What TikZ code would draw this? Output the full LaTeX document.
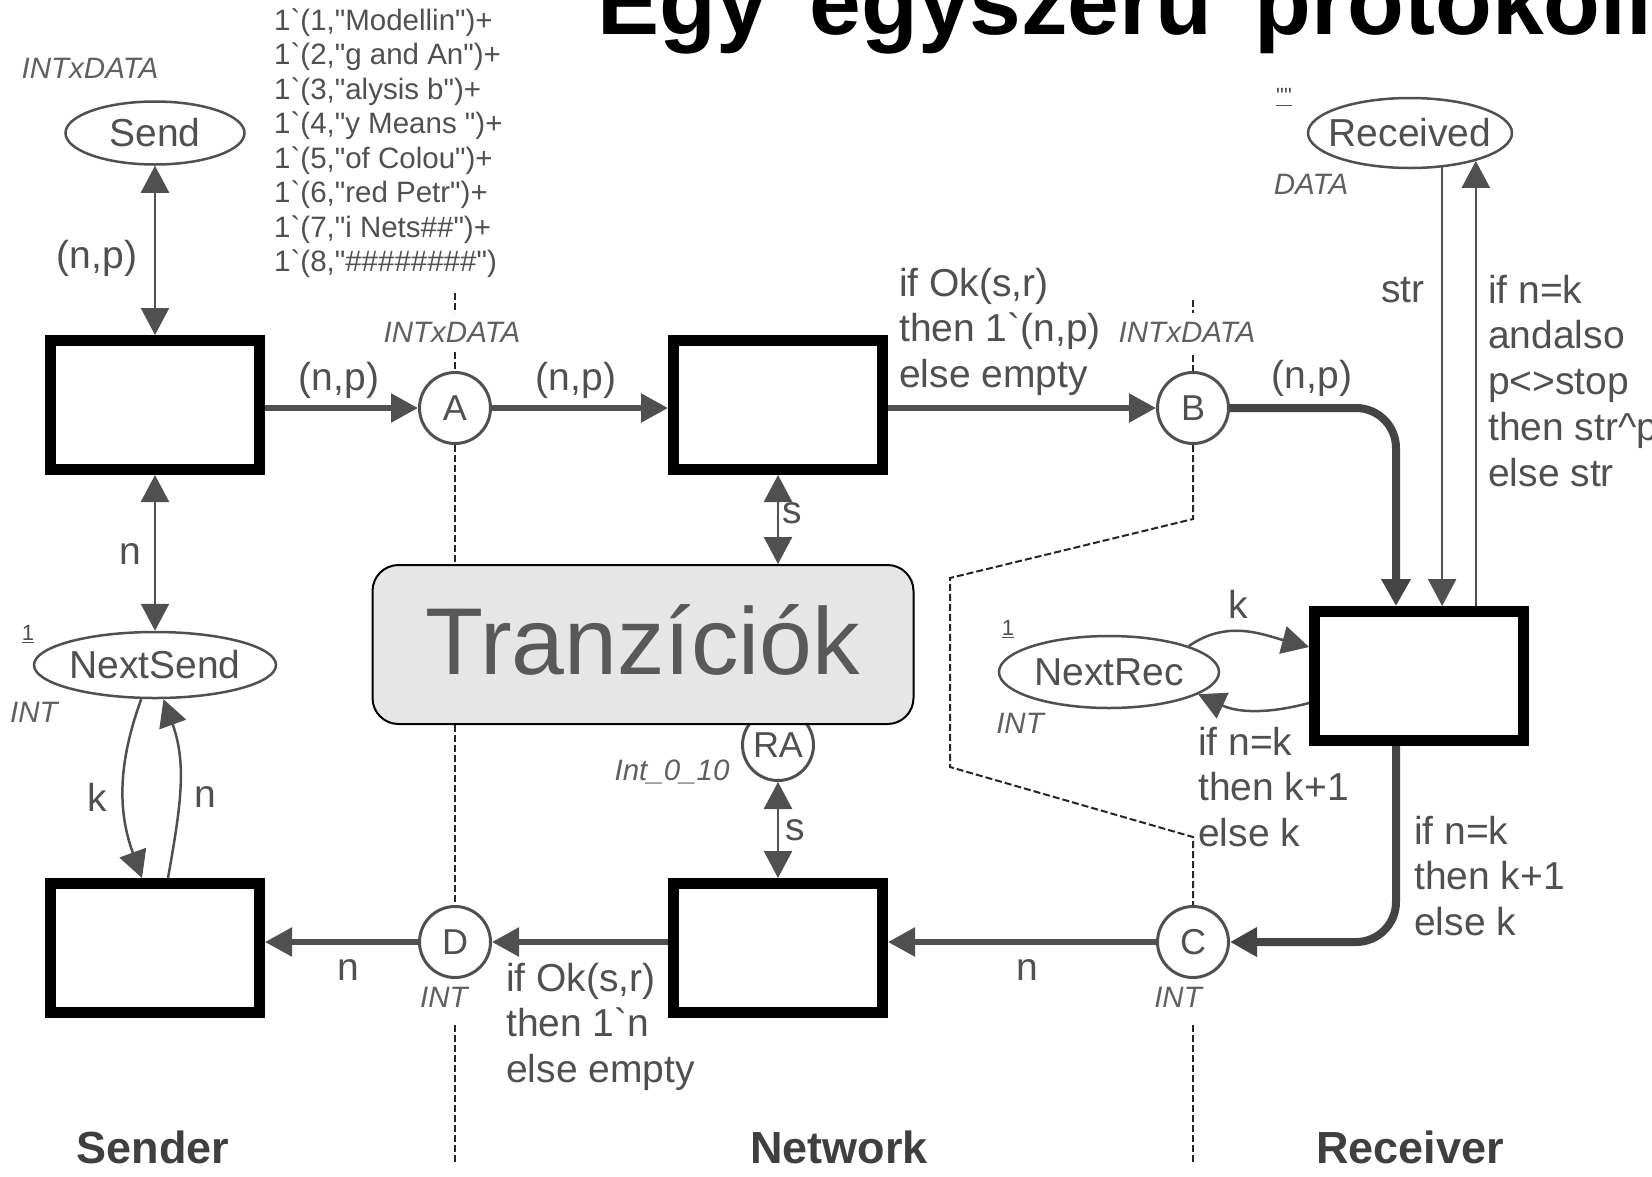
\documentclass[tikz,border=0pt]{standalone}
\usepackage{fontspec}
\newfontfamily\diafont{Liberation Sans}
\usetikzlibrary{arrows.meta,shapes.geometric,calc}
\definecolor{tgray}{HTML}{505050}
\definecolor{igray}{HTML}{606060}
\definecolor{agray}{HTML}{505050}
\definecolor{boxfill}{HTML}{E6E6E6}
\definecolor{trztext}{HTML}{595959}
\definecolor{botgray}{HTML}{3F3F3F}
\tikzset{
  lab/.style={font=\diafont\fontsize{39}{45}\selectfont, text=tgray, inner sep=0pt},
  mlab/.style={font=\diafont\fontsize{39}{45.8}\selectfont, text=tgray, inner sep=0pt, anchor=base west},
  typ/.style={font=\diafont\itshape\fontsize{29.5}{34}\selectfont, text=igray, inner sep=0pt},
  marking/.style={font=\diafont\fontsize{29.5}{34.5}\selectfont, text=tgray, inner sep=0pt, anchor=base west},
  tiny/.style={font=\diafont\fontsize{22}{24}\selectfont, text=tgray, inner sep=0pt},
  bot/.style={font=\diafont\bfseries\fontsize{45}{50}\selectfont, text=botgray, inner sep=0pt, anchor=base},
  trans/.style={draw=black, line width=11pt, fill=white, minimum width=209pt, minimum height=129pt, inner sep=0pt},
  cplace/.style={circle, draw=agray, line width=3pt, fill=white, minimum size=71pt, inner sep=0pt,
                 font=\diafont\fontsize{36}{40}\selectfont, text=tgray},
  eplace/.style={ellipse, draw=agray, line width=2.5pt, fill=white, inner sep=0pt},
  thinarc/.style={draw=agray, line width=2.5pt},
  medarc/.style={draw=agray, line width=5.5pt},
  thickarc/.style={draw=agray!85!black, line width=8pt},
  bound/.style={draw=black!85, line width=2pt, dash pattern=on 7pt off 3pt},
  >={Triangle[length=27pt,width=28pt]}
}
\begin{document}
\begin{tikzpicture}[x=1pt,y=1pt]
\fill[white] (0,0) rectangle (1652,-1176);
\useasboundingbox (0,0) rectangle (1652,-1176);

% title
\node[anchor=base west, inner sep=0pt, font=\diafont\bfseries\fontsize{93}{95}\selectfont] (title) at (597,-34) {Egy\hspace{16pt} egyszerű\hspace{16pt} protokoll};

% transitions
\node[trans] (T1) at (155,-405) {};
\node[trans] (T2) at (778,-405) {};
\node[trans] (T3) at (1419,-676) {};
\node[trans] (T4) at (778,-948) {};
\node[trans] (T5) at (155,-948) {};

% circular places
\node[cplace] (A) at (455,-408) {A};
\node[cplace] (B) at (1193,-408) {B};
\node[cplace] (C) at (1193,-942) {C};
\node[cplace] (D) at (455,-942) {D};
\node[cplace] (RA) at (778,-745) {RA};

% ellipse places
\node[eplace, minimum width=179pt, minimum height=63pt] (Send) at (155,-133) {};
\node[lab] (SendL) at (Send) {Send};
\node[eplace, minimum width=242pt, minimum height=66pt] (NextSend) at (155,-665) {};
\node[lab] (NextSendL) at (NextSend) {NextSend};
\node[eplace, minimum width=204pt, minimum height=70pt] (Received) at (1410,-133) {};
\node[lab] (ReceivedL) at (Received) {Received};
\node[eplace, minimum width=220pt, minimum height=72pt] (NextRec) at (1109,-672) {};
\node[lab] (NextRecL) at (NextRec) {NextRec};

% network boundaries
\draw[bound] (455,-293) -- (455,-313);
\draw[bound] (455,-352) -- (A.north);
\draw[bound] (A.south) -- (D.north);
\draw[bound] (455,-1025) -- (455,-1162);
\draw[bound] (1193,-300) -- (1193,-313);
\draw[bound] (1193,-355) -- (B.north);
\draw[bound] (B.south) -- (1193,-519) -- (950,-578) -- (950,-767) -- (1193,-837) -- (C.north);
\draw[bound] (1193,-1025) -- (1193,-1162);

% arcs
\coordinate (bt) at (1396,-408);
\draw[medarc,->] (T1.east |- A.west) -- (A.west);
\draw[medarc,->] (A.east) -- (A.east -| T2.west);
\draw[medarc,->] (B.west -| T2.east) -- (B.west);
\draw[thickarc,->,rounded corners=40pt] (B.east) -- (bt) -- (bt |- T3.north);
\draw[thickarc,->,rounded corners=40pt] (bt |- T3.south) -- (bt |- C.east) -- (C.east);
\draw[medarc,->] (C.west) -- (C.west -| T4.east);
\draw[medarc,->] (D.east -| T4.west) -- (D.east);
\draw[medarc,->] (D.west) -- (D.west -| T5.east);
\draw[thinarc,<->] (Send.south) -- (T1.north);
\draw[thinarc,<->] (T1.south) -- (NextSend.north);
\draw[thinarc,->] (Received.-47) -- (Received.-47 |- T3.north);
\draw[thinarc,->] (Received.-23.6 |- T3.north) -- (Received.-23.6);
\draw[thinarc,<->] (RA.south) -- (RA.south |- T4.north);
\draw[thinarc,->] (NextSend.-112) to[out=250,in=110] ([xshift=-13pt]T5.north);
\draw[thinarc,->] ([xshift=13pt]T5.north) to[out=80,in=-70] (NextSend.-76);
\draw[thinarc,->] (NextRec.18) to[out=35,in=165] ([yshift=29pt]T3.west);
\draw[thinarc,->] ([yshift=-27pt]T3.west) to[out=195,in=-25] (NextRec.-14);

% labels
\node[marking] (mark) at (274,-30) {\begin{tabular}[t]{@{}l@{}}
1`(1,"Modellin")+\\
1`(2,"g and An")+\\
1`(3,"alysis b")+\\
1`(4,"y Means ")+\\
1`(5,"of Colou")+\\
1`(6,"red Petr")+\\
1`(7,"i Nets\#\#")+\\
1`(8,"\#\#\#\#\#\#\#\#")\end{tabular}};
\node[typ] (SendT) at (90,-68) {INTxDATA};
\node[lab] (l1) at (97,-258) {(n,p)};
\node[lab] (l2) at (339,-380) {(n,p)};
\node[typ, anchor=base] (AT) at (452,-342) {INTxDATA};
\node[lab] (l3) at (576,-380) {(n,p)};
\node[mlab] (l4) at (899,-296) {\begin{tabular}[t]{@{}l@{}}if Ok(s,r)\\then 1`(n,p)\\else empty\end{tabular}};
\node[typ, anchor=base] (BT) at (1187,-342) {INTxDATA};
\node[lab] (l5) at (1312,-378) {(n,p)};
\node[tiny] (RecInit) at (1284,-97) {\underline{""}};
\node[typ] (RecT) at (1311,-184) {DATA};
\node[lab] (l6) at (1403,-290) {str};
\node[mlab] (l7) at (1488,-303) {\begin{tabular}[t]{@{}l@{}}if n=k\\andalso\\p<>stop\\then str\textasciicircum p\\else str\end{tabular}};
\node[lab] (l8) at (130,-554) {n};
\node[tiny] (NSInit) at (28,-634) {\underline{1}};
\node[typ] (NST) at (34,-712) {INT};
\node[lab] (l9) at (97,-797) {k};
\node[lab] (l10) at (205,-797) {n};
\node[lab] (l11) at (792,-513) {s};
\node[typ] (RAT) at (672,-772) {Int\_0\_10};
\node[lab] (l12) at (795,-830) {s};
\node[tiny] (NRInit) at (1008,-629) {\underline{1}};
\node[typ] (NRT) at (1020,-723) {INT};
\node[lab] (l13) at (1238,-604) {k};
\node[mlab] (l14) at (1198,-755) {\begin{tabular}[t]{@{}l@{}}if n=k\\then k+1\\else k\end{tabular}};
\node[mlab] (l15) at (1414,-844) {\begin{tabular}[t]{@{}l@{}}if n=k\\then k+1\\else k\end{tabular}};
\node[lab] (l16) at (1027,-970) {n};
\node[typ] (CT) at (1178,-997) {INT};
\node[typ] (DT) at (444,-997) {INT};
\node[mlab] (l17) at (506,-991) {\begin{tabular}[t]{@{}l@{}}if Ok(s,r)\\then 1`n\\else empty\end{tabular}};
\node[lab] (l18) at (348,-970) {n};

\node[bot] (sender) at (153,-1163) {Sender};
\node[bot] (network) at (839,-1163) {Network};
\node[bot] (receiver) at (1410,-1163) {Receiver};

% overlay box
\node[draw=black, line width=2pt, fill=boxfill, rounded corners=26pt, minimum width=541pt, minimum height=159pt, inner sep=0pt] (trz) at (643,-644.5) {};
\draw[thinarc,<->] (T2.south) -- (T2.south |- trz.north);
\node[anchor=base, inner sep=0pt, font=\diafont\fontsize{95}{100}\selectfont, text=trztext] (trzL) at (643,-674) {Tranzíciók};
\end{tikzpicture}
\end{document}
